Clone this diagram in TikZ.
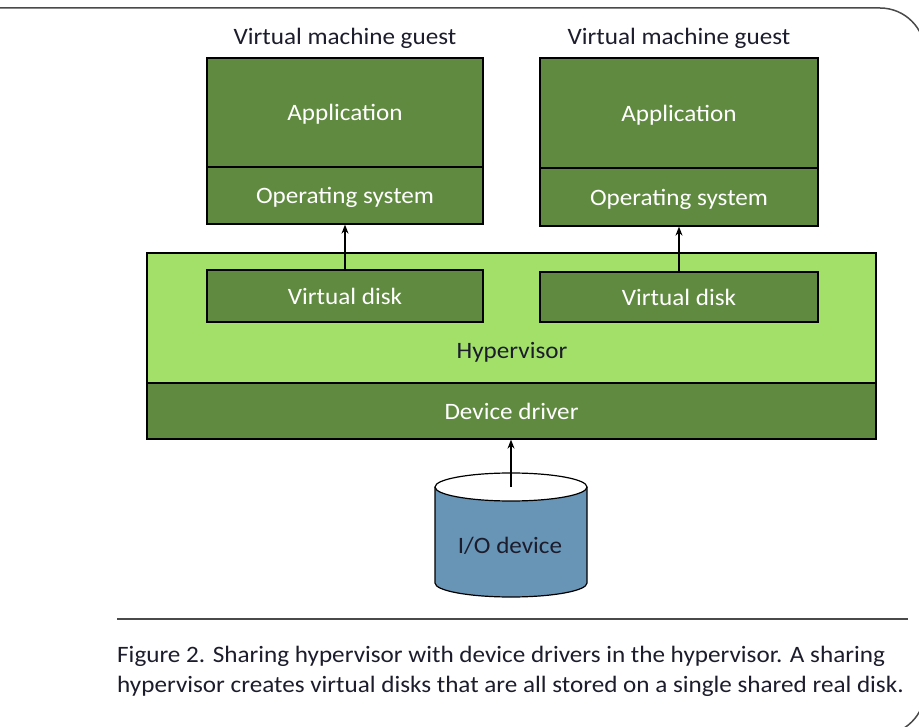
\documentclass[tikz,border=0pt]{standalone}
\usepackage{fontspec}
\setmainfont[FakeStretch=1.07]{Carlito}
\usetikzlibrary{arrows.meta}
\definecolor{boxgreen}{HTML}{608A40}
\definecolor{hypgreen}{HTML}{A2E06A}
\definecolor{diskblue}{HTML}{6894B6}
\definecolor{inkdark}{HTML}{1C1C2C}
\definecolor{framegray}{HTML}{4A4A4A}
\begin{document}
\begin{tikzpicture}[x=1pt,y=-1pt,
  txt/.style={font=\fontsize{23.5}{28}\selectfont, inner sep=0pt},
  darkbox/.style={txt, text depth=0pt, draw=black, line width=1.3pt, fill=boxgreen, text=white},
  lightbox/.style={draw=black, line width=1.3pt, fill=hypgreen, inner sep=0pt},
  conn/.style={line width=1.3pt, -{Stealth[length=9pt,width=7pt]}},
  rulestyle/.style={line width=1.5pt, framegray}
]
\useasboundingbox (0,0) rectangle (919,727);

% outer frame with rounded right corners
\begin{scope}
  \clip (0,0) rectangle (919,727);
  \draw[line width=1.5pt, framegray, rounded corners=45pt]
    (-20,8) -- (925,8) -- (925,735) -- (-20,735);
\end{scope}

% guest machines
\node[txt, text=inkdark] (gL) at (345,38) {Virtual machine guest};
\node[txt, text=inkdark] (gR) at (679,38) {Virtual machine guest};

\node[darkbox, minimum width=276, minimum height=109] (appL) at (345,112.5) {Application};
\node[darkbox, minimum width=276, minimum height=57]  (osL)  at (345,195.5) {Operating system};
\node[darkbox, minimum width=278, minimum height=110] (appR) at (679,113) {Application};
\node[darkbox, minimum width=278, minimum height=58]  (osR)  at (679,197) {Operating system};

% hypervisor layer
\node[lightbox, minimum width=729, minimum height=130] (hyp) at (511.5,318) {};
\node[darkbox, minimum width=729, minimum height=56] (drv) at (511.5,411) {Device driver};
\node[txt, text=inkdark] (hypl) at (512,352) {Hypervisor};

\node[darkbox, minimum width=276, minimum height=52] (vdL) at (345,296) {Virtual disk};
\node[darkbox, minimum width=278, minimum height=50] (vdR) at (679,297) {Virtual disk};

% I/O device cylinder
\filldraw[fill=diskblue, draw=black, line width=1.2pt]
  (435,487) -- (435,583) arc[start angle=180, end angle=360, x radius=76pt, y radius=14pt]
  -- (587,487);
\filldraw[fill=white, draw=black, line width=1.2pt]
  (511,487) ellipse [x radius=76pt, y radius=14pt];
\coordinate (iotop) at (511,487);
\node[txt, text=inkdark] (io) at (510,546) {I/O device};

% connectors
\draw[conn] (vdL.north) -- (osL.south);
\draw[conn] (vdR.north) -- (osR.south);
\draw[conn] (iotop) -- (iotop |- drv.south);

% caption
\coordinate (ruleL) at (117,619);
\coordinate (ruleR) at (908,619);
\draw[rulestyle] (ruleL) -- (ruleR);
\node[txt, text=inkdark, anchor=base west] (cap1) at (117,662)
  {Figure 2. Sharing hypervisor with device drivers in the hypervisor. A sharing};
\node[txt, text=inkdark, anchor=base west] (cap2) at (117,692)
  {hypervisor creates virtual disks that are all stored on a single shared real disk.};
\end{tikzpicture}
\end{document}
